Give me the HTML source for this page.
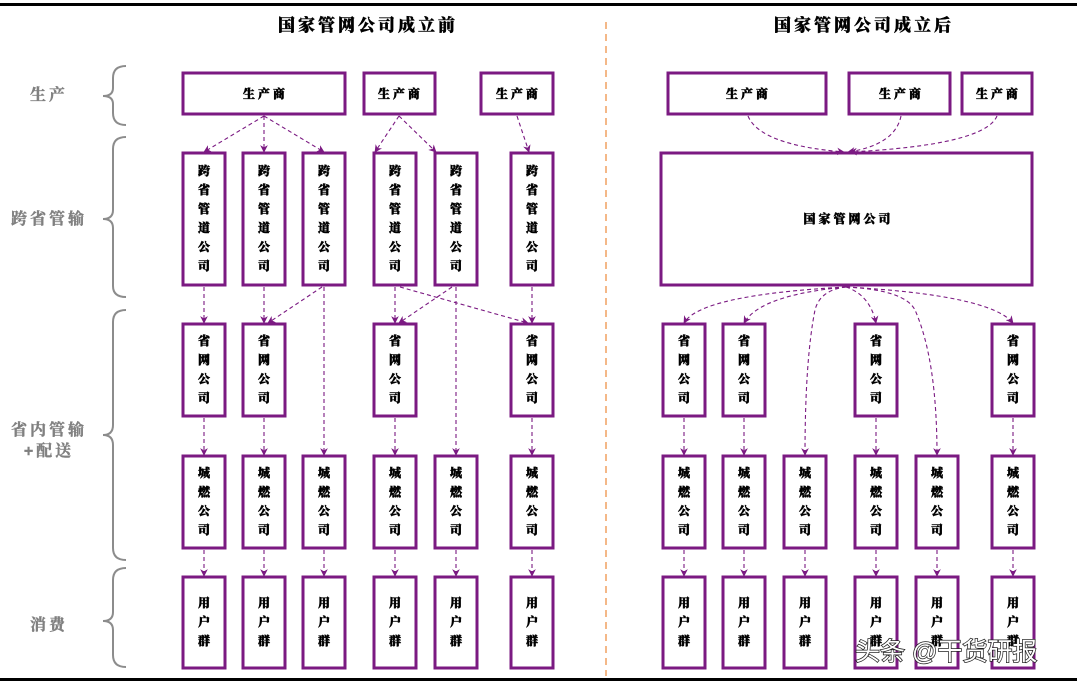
<!DOCTYPE html>
<html><head><meta charset="utf-8"><style>
html,body{margin:0;padding:0;background:#fff;}
svg{display:block;}
.b{fill:#fff;stroke:#7b1a82;stroke-width:3;}
.t{font-family:"Liberation Serif","Noto Serif CJK SC",serif;font-weight:900;font-size:12px;fill:#000;stroke:#000;stroke-width:0.5;text-anchor:middle;}
.d{fill:none;stroke:#7b1a82;stroke-width:1.1;stroke-dasharray:4 3;}
.g{font-family:"Liberation Sans","Noto Serif CJK SC",serif;font-weight:bold;font-size:16px;fill:#808080;stroke:#808080;stroke-width:0.4;text-anchor:middle;letter-spacing:3px;}
.br{fill:none;stroke:#8c8c8c;stroke-width:2;}
.h{font-family:"Liberation Serif","Noto Serif CJK SC",serif;font-weight:900;font-size:17px;fill:#000;stroke:#000;stroke-width:0.4;text-anchor:middle;letter-spacing:3px;}
</style></head><body>
<svg width="1077" height="683" viewBox="0 0 1077 683" xmlns="http://www.w3.org/2000/svg">
<defs><marker id="a" viewBox="0 0 10 10" refX="9" refY="5" markerWidth="7" markerHeight="7" orient="auto"><path d="M0,0 L10,5 L0,10 L3,5 z" fill="#7b1a82"/></marker></defs>
<rect x="0" y="3" width="1077" height="3" fill="#000"/>
<rect x="0" y="678" width="1077" height="3" fill="#000"/>
<line x1="606" y1="22" x2="606" y2="676" stroke="#f0a060" stroke-width="1.5" stroke-dasharray="7 5"/>
<text class="h" x="368" y="31">国家管网公司成立前</text>
<text class="h" x="864" y="31">国家管网公司成立后</text>

<text class="g" x="49" y="100">生产</text>
<text class="g" x="49" y="224">跨省管输</text>
<text class="g" x="49" y="435">省内管输</text>
<text class="g" x="49" y="456">+配送</text>
<text class="g" x="49" y="630">消费</text>
<path class="br" d="M126,66 Q113,66 113,78 L113,88 Q113,96 103,96 Q113,96 113,104 L113,113 Q113,125 126,125"/>
<path class="br" d="M126,137 Q113,137 113,149 L113,210 Q113,219 103,219 Q113,219 113,228 L113,286 Q113,297 126,297"/>
<path class="br" d="M126,310 Q113,310 113,322 L113,425 Q113,435 103,435 Q113,435 113,445 L113,548 Q113,560 126,560"/>
<path class="br" d="M126,568 Q113,568 113,580 L113,612 Q113,621 103,621 Q113,621 113,630 L113,655 Q113,667 126,667"/>

<rect class="b" x="183" y="73" width="162" height="41"/><text class="t" x="264" y="98">生 产 商</text>
<rect class="b" x="364" y="73" width="71" height="41"/><text class="t" x="399" y="98">生 产 商</text>
<rect class="b" x="481" y="73" width="72" height="41"/><text class="t" x="517" y="98">生 产 商</text>

<g>
<rect class="b" x="183" y="153" width="42" height="132"/><text class="t" x="204" y="175"><tspan x="204">跨</tspan><tspan x="204" dy="19">省</tspan><tspan x="204" dy="19">管</tspan><tspan x="204" dy="19">道</tspan><tspan x="204" dy="19">公</tspan><tspan x="204" dy="19">司</tspan></text>
<rect class="b" x="243" y="153" width="42" height="132"/><text class="t" x="264" y="175"><tspan x="264">跨</tspan><tspan x="264" dy="19">省</tspan><tspan x="264" dy="19">管</tspan><tspan x="264" dy="19">道</tspan><tspan x="264" dy="19">公</tspan><tspan x="264" dy="19">司</tspan></text>
<rect class="b" x="303" y="153" width="42" height="132"/><text class="t" x="324" y="175"><tspan x="324">跨</tspan><tspan x="324" dy="19">省</tspan><tspan x="324" dy="19">管</tspan><tspan x="324" dy="19">道</tspan><tspan x="324" dy="19">公</tspan><tspan x="324" dy="19">司</tspan></text>
<rect class="b" x="374" y="153" width="42" height="132"/><text class="t" x="395" y="175"><tspan x="395">跨</tspan><tspan x="395" dy="19">省</tspan><tspan x="395" dy="19">管</tspan><tspan x="395" dy="19">道</tspan><tspan x="395" dy="19">公</tspan><tspan x="395" dy="19">司</tspan></text>
<rect class="b" x="435" y="153" width="42" height="132"/><text class="t" x="456" y="175"><tspan x="456">跨</tspan><tspan x="456" dy="19">省</tspan><tspan x="456" dy="19">管</tspan><tspan x="456" dy="19">道</tspan><tspan x="456" dy="19">公</tspan><tspan x="456" dy="19">司</tspan></text>
<rect class="b" x="511" y="153" width="42" height="132"/><text class="t" x="532" y="175"><tspan x="532">跨</tspan><tspan x="532" dy="19">省</tspan><tspan x="532" dy="19">管</tspan><tspan x="532" dy="19">道</tspan><tspan x="532" dy="19">公</tspan><tspan x="532" dy="19">司</tspan></text>
</g>

<rect class="b" x="183" y="324" width="42" height="92"/><text class="t" y="345"><tspan x="204">省</tspan><tspan x="204" dy="19">网</tspan><tspan x="204" dy="19">公</tspan><tspan x="204" dy="19">司</tspan></text>
<rect class="b" x="243" y="324" width="42" height="92"/><text class="t" y="345"><tspan x="264">省</tspan><tspan x="264" dy="19">网</tspan><tspan x="264" dy="19">公</tspan><tspan x="264" dy="19">司</tspan></text>
<rect class="b" x="374" y="324" width="42" height="92"/><text class="t" y="345"><tspan x="395">省</tspan><tspan x="395" dy="19">网</tspan><tspan x="395" dy="19">公</tspan><tspan x="395" dy="19">司</tspan></text>
<rect class="b" x="511" y="324" width="42" height="92"/><text class="t" y="345"><tspan x="532">省</tspan><tspan x="532" dy="19">网</tspan><tspan x="532" dy="19">公</tspan><tspan x="532" dy="19">司</tspan></text>

<rect class="b" x="668" y="73" width="158" height="41"/><text class="t" x="747" y="98">生 产 商</text>
<rect class="b" x="849" y="73" width="101" height="41"/><text class="t" x="900" y="98">生 产 商</text>
<rect class="b" x="962" y="73" width="70" height="41"/><text class="t" x="997" y="98">生 产 商</text>
<rect class="b" x="661" y="153" width="371" height="132"/><text class="t" x="847" y="223">国 家 管 网 公 司</text>

<rect class="b" x="663" y="324" width="42" height="92"/><text class="t" y="345"><tspan x="684">省</tspan><tspan x="684" dy="19">网</tspan><tspan x="684" dy="19">公</tspan><tspan x="684" dy="19">司</tspan></text>
<rect class="b" x="723" y="324" width="42" height="92"/><text class="t" y="345"><tspan x="744">省</tspan><tspan x="744" dy="19">网</tspan><tspan x="744" dy="19">公</tspan><tspan x="744" dy="19">司</tspan></text>
<rect class="b" x="855" y="324" width="42" height="92"/><text class="t" y="345"><tspan x="876">省</tspan><tspan x="876" dy="19">网</tspan><tspan x="876" dy="19">公</tspan><tspan x="876" dy="19">司</tspan></text>
<rect class="b" x="992" y="324" width="42" height="92"/><text class="t" y="345"><tspan x="1013">省</tspan><tspan x="1013" dy="19">网</tspan><tspan x="1013" dy="19">公</tspan><tspan x="1013" dy="19">司</tspan></text>

<g>
<rect class="b" x="183" y="456" width="42" height="92"/><text class="t" y="477"><tspan x="204">城</tspan><tspan x="204" dy="19">燃</tspan><tspan x="204" dy="19">公</tspan><tspan x="204" dy="19">司</tspan></text>
<rect class="b" x="243" y="456" width="42" height="92"/><text class="t" y="477"><tspan x="264">城</tspan><tspan x="264" dy="19">燃</tspan><tspan x="264" dy="19">公</tspan><tspan x="264" dy="19">司</tspan></text>
<rect class="b" x="303" y="456" width="42" height="92"/><text class="t" y="477"><tspan x="324">城</tspan><tspan x="324" dy="19">燃</tspan><tspan x="324" dy="19">公</tspan><tspan x="324" dy="19">司</tspan></text>
<rect class="b" x="374" y="456" width="42" height="92"/><text class="t" y="477"><tspan x="395">城</tspan><tspan x="395" dy="19">燃</tspan><tspan x="395" dy="19">公</tspan><tspan x="395" dy="19">司</tspan></text>
<rect class="b" x="435" y="456" width="42" height="92"/><text class="t" y="477"><tspan x="456">城</tspan><tspan x="456" dy="19">燃</tspan><tspan x="456" dy="19">公</tspan><tspan x="456" dy="19">司</tspan></text>
<rect class="b" x="511" y="456" width="42" height="92"/><text class="t" y="477"><tspan x="532">城</tspan><tspan x="532" dy="19">燃</tspan><tspan x="532" dy="19">公</tspan><tspan x="532" dy="19">司</tspan></text>
<rect class="b" x="663" y="456" width="42" height="92"/><text class="t" y="477"><tspan x="684">城</tspan><tspan x="684" dy="19">燃</tspan><tspan x="684" dy="19">公</tspan><tspan x="684" dy="19">司</tspan></text>
<rect class="b" x="723" y="456" width="42" height="92"/><text class="t" y="477"><tspan x="744">城</tspan><tspan x="744" dy="19">燃</tspan><tspan x="744" dy="19">公</tspan><tspan x="744" dy="19">司</tspan></text>
<rect class="b" x="784" y="456" width="42" height="92"/><text class="t" y="477"><tspan x="805">城</tspan><tspan x="805" dy="19">燃</tspan><tspan x="805" dy="19">公</tspan><tspan x="805" dy="19">司</tspan></text>
<rect class="b" x="855" y="456" width="42" height="92"/><text class="t" y="477"><tspan x="876">城</tspan><tspan x="876" dy="19">燃</tspan><tspan x="876" dy="19">公</tspan><tspan x="876" dy="19">司</tspan></text>
<rect class="b" x="916" y="456" width="42" height="92"/><text class="t" y="477"><tspan x="937">城</tspan><tspan x="937" dy="19">燃</tspan><tspan x="937" dy="19">公</tspan><tspan x="937" dy="19">司</tspan></text>
<rect class="b" x="992" y="456" width="42" height="92"/><text class="t" y="477"><tspan x="1013">城</tspan><tspan x="1013" dy="19">燃</tspan><tspan x="1013" dy="19">公</tspan><tspan x="1013" dy="19">司</tspan></text>

<rect class="b" x="183" y="577" width="42" height="91"/><text class="t" y="607"><tspan x="204">用</tspan><tspan x="204" dy="19">户</tspan><tspan x="204" dy="19">群</tspan></text>
<rect class="b" x="243" y="577" width="42" height="91"/><text class="t" y="607"><tspan x="264">用</tspan><tspan x="264" dy="19">户</tspan><tspan x="264" dy="19">群</tspan></text>
<rect class="b" x="303" y="577" width="42" height="91"/><text class="t" y="607"><tspan x="324">用</tspan><tspan x="324" dy="19">户</tspan><tspan x="324" dy="19">群</tspan></text>
<rect class="b" x="374" y="577" width="42" height="91"/><text class="t" y="607"><tspan x="395">用</tspan><tspan x="395" dy="19">户</tspan><tspan x="395" dy="19">群</tspan></text>
<rect class="b" x="435" y="577" width="42" height="91"/><text class="t" y="607"><tspan x="456">用</tspan><tspan x="456" dy="19">户</tspan><tspan x="456" dy="19">群</tspan></text>
<rect class="b" x="511" y="577" width="42" height="91"/><text class="t" y="607"><tspan x="532">用</tspan><tspan x="532" dy="19">户</tspan><tspan x="532" dy="19">群</tspan></text>
<rect class="b" x="663" y="577" width="42" height="91"/><text class="t" y="607"><tspan x="684">用</tspan><tspan x="684" dy="19">户</tspan><tspan x="684" dy="19">群</tspan></text>
<rect class="b" x="723" y="577" width="42" height="91"/><text class="t" y="607"><tspan x="744">用</tspan><tspan x="744" dy="19">户</tspan><tspan x="744" dy="19">群</tspan></text>
<rect class="b" x="784" y="577" width="42" height="91"/><text class="t" y="607"><tspan x="805">用</tspan><tspan x="805" dy="19">户</tspan><tspan x="805" dy="19">群</tspan></text>
<rect class="b" x="855" y="577" width="42" height="91"/><text class="t" y="607"><tspan x="876">用</tspan><tspan x="876" dy="19">户</tspan><tspan x="876" dy="19">群</tspan></text>
<rect class="b" x="916" y="577" width="42" height="91"/><text class="t" y="607"><tspan x="937">用</tspan><tspan x="937" dy="19">户</tspan><tspan x="937" dy="19">群</tspan></text>
<rect class="b" x="992" y="577" width="42" height="91"/><text class="t" y="607"><tspan x="1013">用</tspan><tspan x="1013" dy="19">户</tspan><tspan x="1013" dy="19">群</tspan></text>
</g>

<g marker-end="url(#a)">
<line class="d" x1="264" y1="116" x2="204" y2="152"/>
<line class="d" x1="264" y1="116" x2="264" y2="152"/>
<line class="d" x1="264" y1="116" x2="324" y2="152"/>
<line class="d" x1="399" y1="116" x2="375" y2="152"/>
<line class="d" x1="399" y1="116" x2="436" y2="152"/>
<line class="d" x1="517" y1="116" x2="529" y2="152"/>
<line class="d" x1="204" y1="287" x2="204" y2="323"/>
<line class="d" x1="264" y1="287" x2="264" y2="323"/>
<line class="d" x1="322" y1="287" x2="268" y2="323"/>
<line class="d" x1="324" y1="287" x2="324" y2="455"/>
<line class="d" x1="395" y1="287" x2="395" y2="323"/>
<line class="d" x1="452" y1="287" x2="399" y2="323"/>
<line class="d" x1="456" y1="287" x2="456" y2="455"/>
<line class="d" x1="400" y1="287" x2="528" y2="323"/>
<line class="d" x1="532" y1="287" x2="532" y2="323"/>
<line class="d" x1="204" y1="418" x2="204" y2="455"/>
<line class="d" x1="264" y1="418" x2="264" y2="455"/>
<line class="d" x1="395" y1="418" x2="395" y2="455"/>
<line class="d" x1="532" y1="418" x2="532" y2="455"/>
<line class="d" x1="204" y1="550" x2="204" y2="576"/>
<line class="d" x1="264" y1="550" x2="264" y2="576"/>
<line class="d" x1="324" y1="550" x2="324" y2="576"/>
<line class="d" x1="395" y1="550" x2="395" y2="576"/>
<line class="d" x1="456" y1="550" x2="456" y2="576"/>
<line class="d" x1="532" y1="550" x2="532" y2="576"/>

<path class="d" d="M748,116 Q760,145 844,152"/>
<path class="d" d="M901,116 Q895,145 848,152"/>
<path class="d" d="M997,116 Q985,145 850,152"/>
<path class="d" d="M846,287 Q700,295 684,323"/>
<path class="d" d="M846,287 Q760,295 744,323"/>
<path class="d" d="M846,287 Q820,290 815,310 Q805,360 805,455"/>
<path class="d" d="M846,287 Q870,295 876,323"/>
<path class="d" d="M846,287 Q905,290 915,310 Q937,360 937,455"/>
<path class="d" d="M846,287 Q990,295 1013,323"/>
<line class="d" x1="684" y1="418" x2="684" y2="455"/>
<line class="d" x1="744" y1="418" x2="744" y2="455"/>
<line class="d" x1="876" y1="418" x2="876" y2="455"/>
<line class="d" x1="1013" y1="418" x2="1013" y2="455"/>
<line class="d" x1="684" y1="550" x2="684" y2="576"/>
<line class="d" x1="744" y1="550" x2="744" y2="576"/>
<line class="d" x1="805" y1="550" x2="805" y2="576"/>
<line class="d" x1="876" y1="550" x2="876" y2="576"/>
<line class="d" x1="937" y1="550" x2="937" y2="576"/>
<line class="d" x1="1013" y1="550" x2="1013" y2="576"/>
</g>

<text x="855" y="660" font-family="'Liberation Sans','Noto Sans CJK SC',sans-serif" font-size="25" fill="#fff" stroke="#222" stroke-width="1.5" paint-order="stroke">头条 @干货研报</text>
</svg>
</body></html>
